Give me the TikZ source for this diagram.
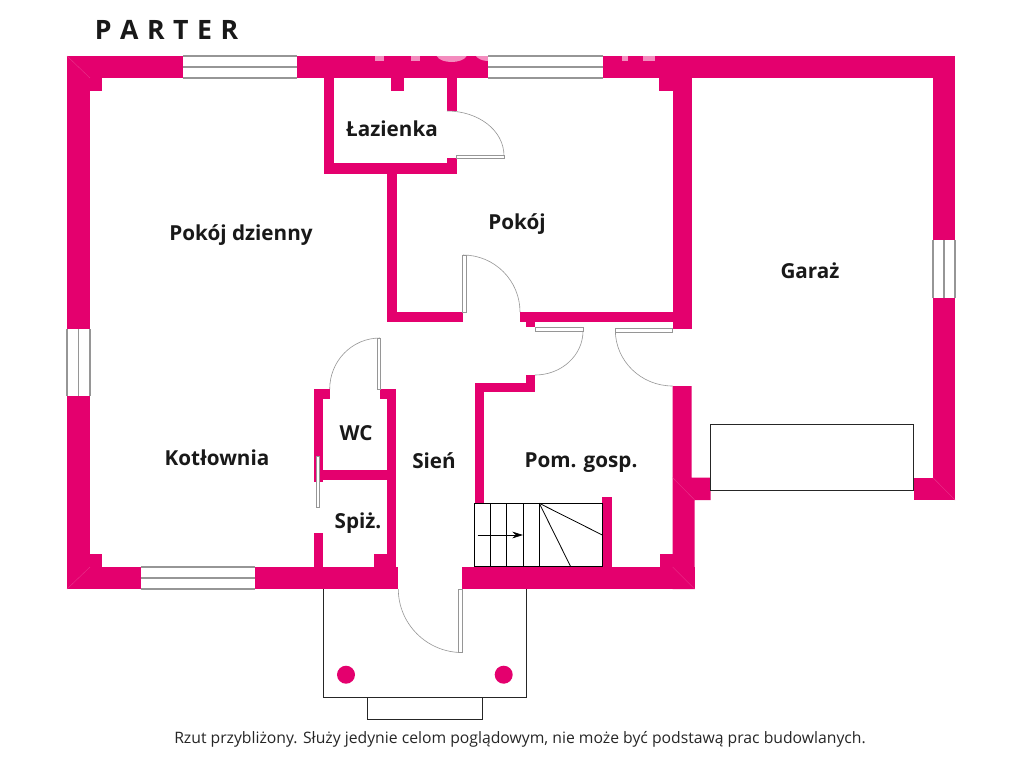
\documentclass[tikz,border=0pt]{standalone}
\usepackage{fontspec}
\setmainfont{Open Sans}
\usetikzlibrary{arrows.meta}
\definecolor{wallpink}{RGB}{228,0,110}
\definecolor{wingline}{RGB}{150,150,150}
\tikzset{
  wall/.style={fill=wallpink},
  seam/.style={draw=wallpink!80!white, line width=0.3pt},
  stain/.style={fill=wallpink!45!white},
  pane/.style={draw=wingline, line width=0.8pt},
  wing/.style={draw=wingline, fill=white, line width=0.5pt},
  swing/.style={draw=wingline, line width=0.45pt},
  outline/.style={draw=black!85, line width=0.65pt},
  tread/.style={draw=black, line width=0.6pt},
  room/.style={font=\fontsize{15.5}{18}\selectfont\bfseries, text=black!90, inner sep=0pt},
}

\begin{document}
\begin{tikzpicture}[x=0.75pt, y=-0.75pt]

    \useasboundingbox[fill=white] (0,0) rectangle (1024,768);

    \fill[wall] (67,56) rectangle (955,78);
    \fill[wall] (67,56) rectangle (90,589);
    \fill[wall] (67,567) rectangle (398.3,589);
    \fill[wall] (462,567) rectangle (694.7,589);
    \fill[wall] (933,56) rectangle (955,500);
    \fill[wall] (913.7,477.7) rectangle (955,500);
    \fill[wall] (90,78) rectangle (102,91);
    \fill[wall] (90,554) rectangle (102,567);

    \fill[wall] (324,78) rectangle (334,173.5);
    \fill[wall] (324,163) rectangle (457,173.5);
    \fill[wall] (447.3,78) rectangle (457,111);
    \fill[wall] (447.3,158) rectangle (457,173.5);
    \fill[wall] (390.7,78) rectangle (403.7,91);

    \fill[wall] (386.7,173) rectangle (396.5,322);
    \fill[wall] (386.7,312.3) rectangle (463,322);
    \fill[wall] (520,312.3) rectangle (692,322);
    \fill[wall] (525.7,322) rectangle (535,327.3);
    \fill[wall] (672.7,78) rectangle (692,328.7);
    \fill[wall] (659.3,78) rectangle (672.7,91);

    \fill[wall] (672.7,386) -- (691.7,386) -- (691.7,477.7) -- (710.7,477.7) -- (710.7,500)
        -- (694.7,500) -- (694.7,589) -- (672.7,589) -- cycle;
    \fill[wall] (660,554) rectangle (672.7,567);

    \fill[wall] (474.7,382.7) rectangle (484.3,503.3);
    \fill[wall] (474.7,382.7) rectangle (535,392.3);
    \fill[wall] (525.7,375.3) rectangle (535,392.3);

    \fill[wall] (313.7,389.3) rectangle (323.3,481.7);
    \fill[wall] (313.7,389.3) rectangle (329.7,399);
    \fill[wall] (380.3,389.3) rectangle (396.3,399);
    \fill[wall] (386.7,389.3) rectangle (396.3,567);
    \fill[wall] (323,470.3) rectangle (387,480);
    \fill[wall] (313.7,532.7) rectangle (323.3,567);
    \fill[wall] (374,554) rectangle (387,567);
    \fill[wall] (602.3,497) rectangle (612,567);

    \draw[seam] (67,56) -- (90,78);
    \draw[seam] (67,589) -- (90,567);
    \draw[seam] (672.7,567) -- (694.7,589);
    \draw[seam] (672.7,477.7) -- (694.7,500);
    \draw[seam] (933,477.7) -- (955,500);

    \fill[stain] (375,56) rectangle (384,61);
    \fill[stain] (410.7,56) rectangle (420,61);
    \fill[stain] (436.7,56) .. controls (441,64) and (462,64) .. (466.7,56) -- cycle;
    \fill[stain] (476,56) .. controls (478,59) and (483,61) .. (488,61) -- (488,56) -- cycle;
    \fill[stain] (621.7,56) rectangle (628,61);
    \fill[stain] (643,56) rectangle (655,61);

    \foreach \xa/\xb in {183/297, 488/603} {
        \fill[white] (\xa,56) rectangle (\xb,78);
        \draw[pane] (\xa,56) -- (\xb,56) (\xa,67) -- (\xb,67) (\xa,78) -- (\xb,78);
    }
    \fill[white] (141,567) rectangle (255,589);
    \draw[pane] (141,567) -- (255,567) (141,578) -- (255,578) (141,589) -- (255,589);
    \foreach \xa/\xc/\ya/\yb in {67/90/329/396, 933/955/240/298} {
        \fill[white] (\xa,\ya) rectangle (\xc,\yb);
        \draw[pane] (\xa,\ya) -- (\xa,\yb) ({(\xa+\xc)/2},\ya) -- ({(\xa+\xc)/2},\yb) (\xc,\ya) -- (\xc,\yb);
    }

    \draw[wing] (456.7,155.7) rectangle (504.3,158.7);
    \draw[swing] (447,111) .. controls (478,111) and (504,130) .. (504,156);
    \draw[wing] (462.7,255) rectangle (466,312);
    \draw[swing] (463,255) .. controls (494.5,255) and (520,280.5) .. (520,312);
    \draw[wing] (535,327.3) rectangle (583,331);
    \draw[swing] (583,331) .. controls (583,355.3) and (561.5,375) .. (535,375);
    \draw[wing] (615.3,328.7) rectangle (672.7,332.3);
    \draw[swing] (615.3,330) .. controls (615.3,361) and (641,386) .. (672.7,386);
    \draw[wing] (377.3,338.3) rectangle (380.3,389);
    \draw[swing] (380,338) .. controls (352,338) and (329.7,361) .. (329.7,389);
    \draw[wing] (316.7,456.7) rectangle (319.7,507.3);
    \draw[wing] (458.7,589) rectangle (462,652.3);
    \draw[swing] (398.3,589) .. controls (398.3,624) and (427,652.5) .. (462,652.5);

    \draw[tread] (474.7,503.3) rectangle (602.3,566.7);
    \foreach \xs in {490.3,506.7,523,539.3} {
        \draw[tread] (\xs,503.3) -- (\xs,566.7);
    }
    \draw[tread] (539.3,503.3) -- (602.3,535);
    \draw[tread] (539.3,503.3) -- (570.7,566.7);
    \draw[tread, -{Stealth[length=8pt, width=5pt]}] (477.7,535) -- (523,535);

    \draw[outline] (710.3,424) rectangle (913.7,490.3);
    \draw[outline] (323.3,589) -- (323.3,697) -- (526.7,697) -- (526.7,589);
    \draw[outline] (367.7,697) -- (367.7,719.3) -- (482.3,719.3) -- (482.3,697);
    \foreach \xd in {346,503.7} {
        \fill[wall] (\xd,674.7) circle (6.75pt);
    }

    \node[room, font=\fontsize{20}{24}\selectfont\bfseries] (parter) at (166.5,30) {P\hspace{0.32em}A\hspace{0.32em}R\hspace{0.32em}T\hspace{0.32em}E\hspace{0.32em}R};
    \node[room] (lazienka) at (392,128.5) {Łazienka};
    \node[room] (dzienny) at (241,235) {Pokój dzienny};
    \node[room] (pokoj) at (517,224) {Pokój};
    \node[room] (garaz) at (810,270.5) {Garaż};
    \node[room] (kotlownia) at (217,457.5) {Kotłownia};
    \node[room] (wc) at (356,433) {WC};
    \node[room] (sien) at (434,461) {Sień};
    \node[room] (gosp) at (581,463) {Pom. gosp.};
    \node[room] (spiz) at (358,523) {Spiż.};
    \node[inner sep=0pt, font=\fontsize{11.8}{14}\selectfont, text=black!85] (rzut) at (520,739) {Rzut przybliżony. Służy jedynie celom poglądowym, nie może być podstawą prac budowlanych.};

\end{tikzpicture}
\end{document}
